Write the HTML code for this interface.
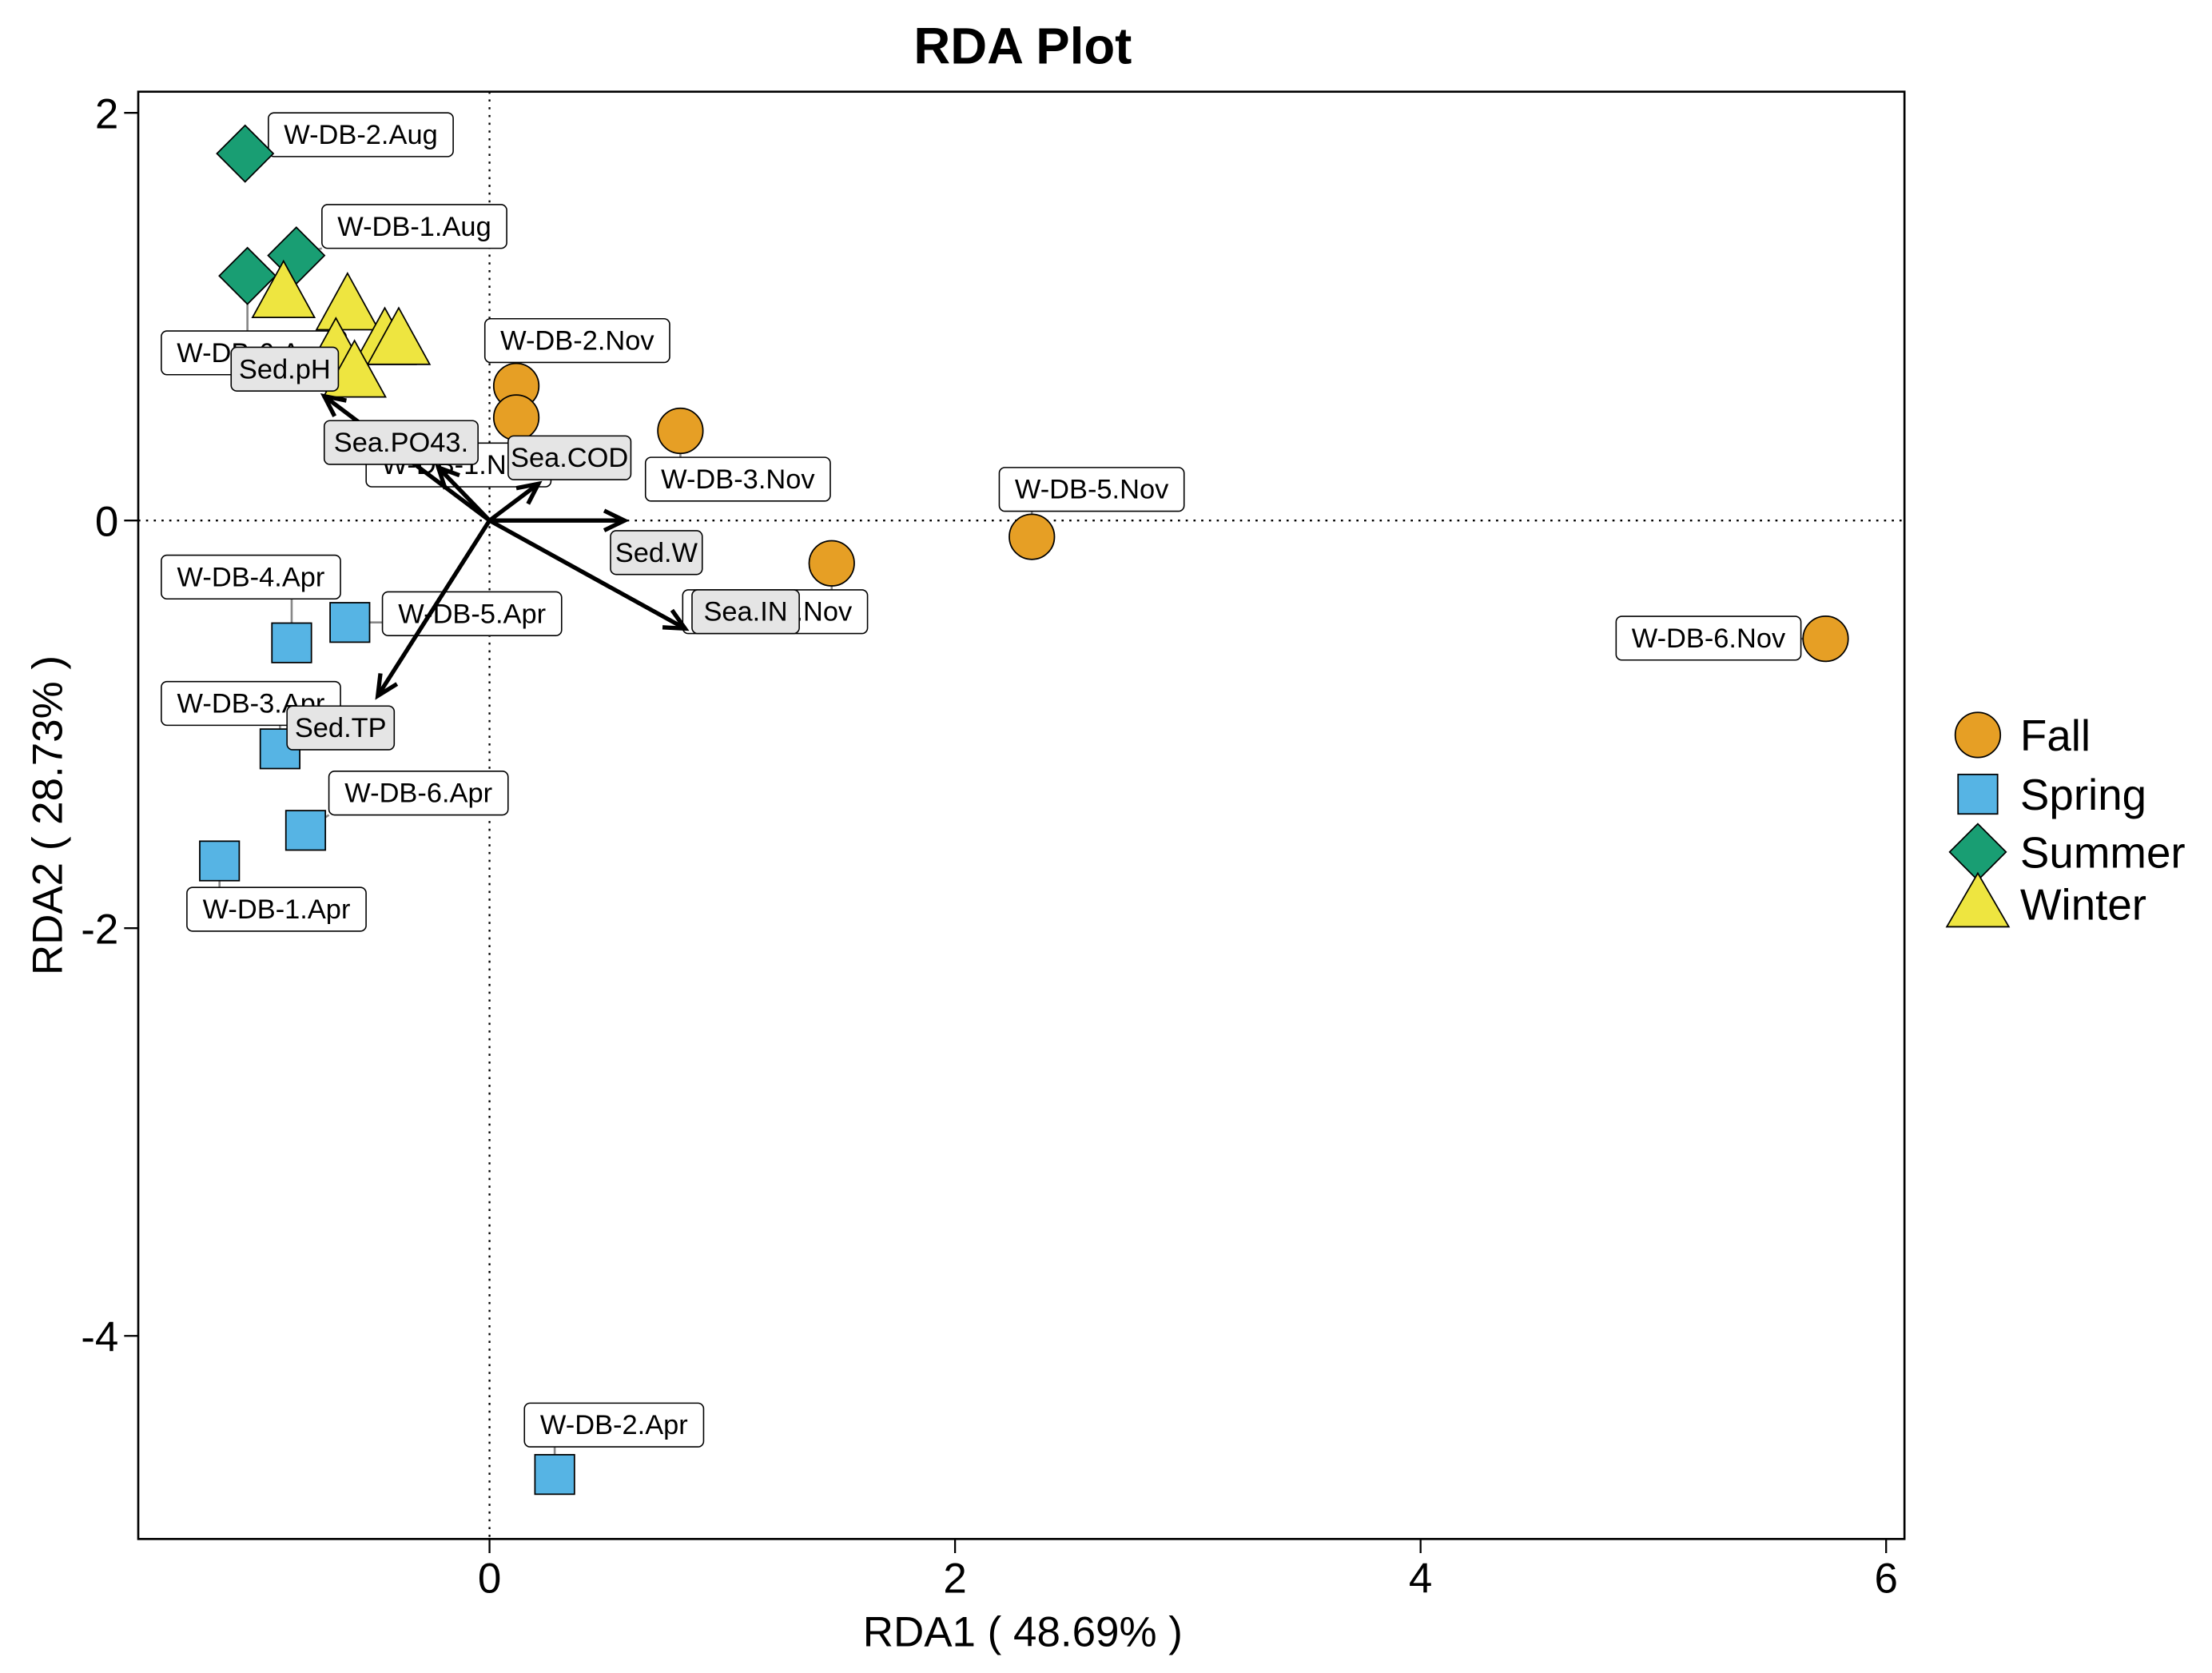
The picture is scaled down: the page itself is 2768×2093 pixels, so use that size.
<!DOCTYPE html>
<html><head><meta charset="utf-8">
<style>
html,body{margin:0;padding:0;background:#fff;}
svg{display:block;font-family:"Liberation Sans",Arial,sans-serif;}
</style></head>
<body>
<svg id="chart" width="2768" height="2093" viewBox="0 0 1568 1186" preserveAspectRatio="none" xmlns="http://www.w3.org/2000/svg">
<text x="725" y="45" text-anchor="middle" font-size="36" font-weight="bold">RDA Plot</text>
<g id="plot"></g>
</svg>
<script>
// ---- data ----
const sampleNames = ["W-DB-2.Nov","W-DB-1.Nov","W-DB-3.Nov","W-DB-4.Nov","W-DB-5.Nov","W-DB-6.Nov",
  "W-DB-4.Apr","W-DB-5.Apr","W-DB-3.Apr","W-DB-6.Apr","W-DB-1.Apr","W-DB-2.Apr",
  "W-DB-2.Aug","W-DB-1.Aug","W-DB-6.Aug",
  "W-DB-1.Dec","W-DB-2.Dec","W-DB-3.Dec","W-DB-4.Dec","W-DB-5.Dec","W-DB-6.Dec"];
const sampleSeason = ["Fall","Fall","Fall","Fall","Fall","Fall",
  "Spring","Spring","Spring","Spring","Spring","Spring",
  "Summer","Summer","Summer",
  "Winter","Winter","Winter","Winter","Winter","Winter"];
const rda1 = [0.115,0.115,0.82,1.47,2.33,5.74, -0.85,-0.6,-0.9,-0.79,-1.16,0.28, -1.05,-0.83,-1.04, -0.885,-0.61,-0.45,-0.39,-0.66,-0.58];
const rda2 = [0.66,0.505,0.44,-0.21,-0.08,-0.58, -0.6,-0.5,-1.12,-1.52,-1.67,-4.68, 1.80,1.30,1.20, 1.10,1.04,0.87,0.87,0.82,0.71];
const labelX = [-0.02,-0.53,0.67,0.83,2.19,4.84, -1.41,-0.46,-1.41,-0.69,-1.30,0.15, -0.95,-0.72,-1.41, null,null,null,null,null,null];
const labelY = [0.99,0.38,0.31,-0.34,0.26,-0.47, -0.17,-0.35,-0.79,-1.23,-1.80,-4.33, 2.00,1.55,0.93, null,null,null,null,null,null];
const envNames = ["Sed.pH","Sea.PO43.","Sea.COD","Sed.W","Sea.IN","Sed.TP"];
const envX = [-0.71,-0.22,0.21,0.58,0.84,-0.48];
const envY = [0.61,0.26,0.18,0.0,-0.53,-0.86];
const envLabelX = [-1.11,-0.71,0.08,0.52,0.87,-0.87];
const envLabelY = [0.85,0.49,0.415,-0.05,-0.34,-0.91];
const xTicks = [0,2,4,6];
const yTicks = [2,0,-2,-4];
const seasons = ["Fall","Spring","Summer","Winter"];
const seasonColors = ["#E69F25","#56B4E4","#199E73","#EEE540"];

// ---- axes ----
const X0=98,X1=1350,Y0=65,Y1=1091;
const sx = v => 347 + v*165;
const sy = v => 369 - v*144.5;
const NS="http://www.w3.org/2000/svg";
const g=document.getElementById('plot');
function el(tag,attrs,parent){const e=document.createElementNS(NS,tag);for(const k in attrs)e.setAttribute(k,attrs[k]);(parent||g).appendChild(e);return e;}

let e;
e=el('line',{x1:sx(0),x2:sx(0),y1:Y0,y2:Y1,stroke:'#000','stroke-width':1.3,'stroke-dasharray':'1.5,4'});

e=el('line',{x1:X0,x2:X1,y1:sy(0),y2:sy(0),stroke:'#000','stroke-width':1.3,'stroke-dasharray':'1.5,4'});


e=el('rect',{x:X0,y:Y0,width:X1-X0,height:Y1-Y0,fill:'none',stroke:'#000','stroke-width':1.5});


xTicks.forEach(t=>{
  e=el('line',{x1:sx(t),x2:sx(t),y1:Y1,y2:Y1+10,stroke:'#000','stroke-width':1.3});
  
  e=el('text',{x:sx(t),y:Y1+38,'text-anchor':'middle','font-size':30,fill:'#000'});
  e.textContent=t;
  
});
yTicks.forEach(t=>{
  e=el('line',{x1:X0-10,x2:X0,y1:sy(t),y2:sy(t),stroke:'#000','stroke-width':1.3});
  
  e=el('text',{x:X0-14,y:sy(t)+11,'text-anchor':'end','font-size':30,fill:'#000'});
  e.textContent=t;
  
});
e=el('text',{x:725,y:1167,'text-anchor':'middle','font-size':30});
e.textContent='RDA1 ( 48.69% )';

e=el('text',{x:44,y:578,'text-anchor':'middle','font-size':30,transform:'rotate(-90 44 578)'});
e.textContent='RDA2 ( 28.73% )';


// ---- markers ----
function marker(season,cx,cy,parent){
  const c=seasonColors[seasons.indexOf(season)];
  let m;
  if(season==='Fall') m=el('circle',{cx:cx,cy:cy,r:16,fill:c,stroke:'#000','stroke-width':1},parent);
  else if(season==='Spring') m=el('rect',{x:cx-14,y:cy-14,width:28,height:28,fill:c,stroke:'#000','stroke-width':1},parent);
  else if(season==='Summer') m=el('polygon',{points:`${cx},${cy-20} ${cx+20},${cy} ${cx},${cy+20} ${cx-20},${cy}`,fill:c,stroke:'#000','stroke-width':1},parent);
  else m=el('polygon',{points:`${cx},${cy-25} ${cx+22},${cy+15} ${cx-22},${cy+15}`,fill:c,stroke:'#000','stroke-width':1},parent);
  return m;
}
function labelBox(text,x,y,fill,w,name){
  const lg=el('g',{});
  
  
  el('rect',{x:x,y:y,width:w,height:31,rx:4,fill:fill,stroke:'#000','stroke-width':0.9},lg);
  const t=el('text',{x:x+w/2,y:y+22,'text-anchor':'middle','font-size':19.5},lg);
  t.textContent=text;
  return lg;
}

const lblW = n => n.endsWith('Apr') ? 127 : 131;
sampleNames.forEach((n,i)=>{
  if(labelX[i]===null) return;
  const bx=sx(labelX[i]), by=sy(labelY[i]), w=lblW(n);
  const px=sx(rda1[i]), py=sy(rda2[i]);
  const tx=Math.max(bx,Math.min(px,bx+w)), ty=Math.max(by,Math.min(py,by+31));
  e=el('line',{x1:px,y1:py,x2:tx,y2:ty,stroke:'#888','stroke-width':1.5});
  
});
sampleNames.forEach((n,i)=>{
  if(labelX[i]===null) return;
  labelBox(n,sx(labelX[i]),sy(labelY[i]),'#fff',lblW(n),'sample-label');
});
sampleNames.forEach((n,i)=>{
  e=marker(sampleSeason[i],sx(rda1[i]),sy(rda2[i]));
  
  
});

envNames.forEach((n,i)=>{
  const x1=sx(0),y1=sy(0),x2=sx(envX[i]),y2=sy(envY[i]);
  const ag=el('g',{});
  
  
  el('line',{x1:x1,y1:y1,x2:x2,y2:y2,stroke:'#000','stroke-width':3},ag);
  const a=Math.atan2(y2-y1,x2-x1),L=16,s=0.45;
  el('polyline',{points:`${x2-L*Math.cos(a-s)},${y2-L*Math.sin(a-s)} ${x2},${y2} ${x2-L*Math.cos(a+s)},${y2-L*Math.sin(a+s)}`,fill:'none',stroke:'#000','stroke-width':3},ag);
});
envNames.forEach((n,i)=>{
  const w=n.length*11+10;
  labelBox(n,sx(envLabelX[i]),sy(envLabelY[i]),'#e5e5e5',w,'env-label');
});

const legY=[521,563,604,641];
seasons.forEach((s,i)=>{
  const lg=el('g',{});
  
  
  if(s==='Fall') el('circle',{cx:1402,cy:legY[i],r:16,fill:seasonColors[i],stroke:'#000','stroke-width':1},lg);
  else if(s==='Spring') el('rect',{x:1388,y:legY[i]-14,width:28,height:28,fill:seasonColors[i],stroke:'#000','stroke-width':1},lg);
  else if(s==='Summer') el('polygon',{points:`1402,${legY[i]-20} 1422,${legY[i]} 1402,${legY[i]+20} 1382,${legY[i]}`,fill:seasonColors[i],stroke:'#000','stroke-width':1},lg);
  else el('polygon',{points:`1402,${legY[i]-22} 1424,${legY[i]+16} 1380,${legY[i]+16}`,fill:seasonColors[i],stroke:'#000','stroke-width':1},lg);
  const t=el('text',{x:1432,y:legY[i]+11,'font-size':31},lg);
  t.textContent=s;
});
</script>
</body></html>
